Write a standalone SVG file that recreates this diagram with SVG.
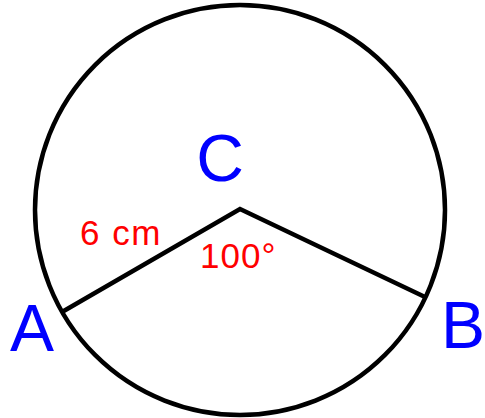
<svg xmlns="http://www.w3.org/2000/svg" width="485" height="418" viewBox="0 0 485 418">
<style>
.shape{fill:none;stroke:#000;stroke-width:4.5;stroke-linejoin:miter}
.lbl{font-family:"Liberation Sans",Arial,sans-serif;fill:#0000ff}
.red{font-family:"Liberation Sans",Arial,sans-serif;fill:#ff0000;font-size:35px}
</style>
<rect width="485" height="418" fill="#fff"/>
<g id="circle"><circle class="shape" cx="240" cy="210" r="205"/></g>
<g id="connectors">
<polyline class="shape" points="62,312 240,209 425,297"/>
</g>
<g id="C"><text class="lbl" x="220" y="181" font-size="66" text-anchor="middle">C</text></g>
<g id="A"><text class="lbl" x="32" y="351" font-size="66" text-anchor="middle">A</text></g>
<g id="B"><text class="lbl" x="463" y="348" font-size="66" text-anchor="middle">B</text></g>
<g id="len"><text class="red" x="80" y="245" letter-spacing="1.5">6 cm</text></g>
<g id="ang"><text class="red" x="200" y="268" letter-spacing="1">100°</text></g>
</svg>
